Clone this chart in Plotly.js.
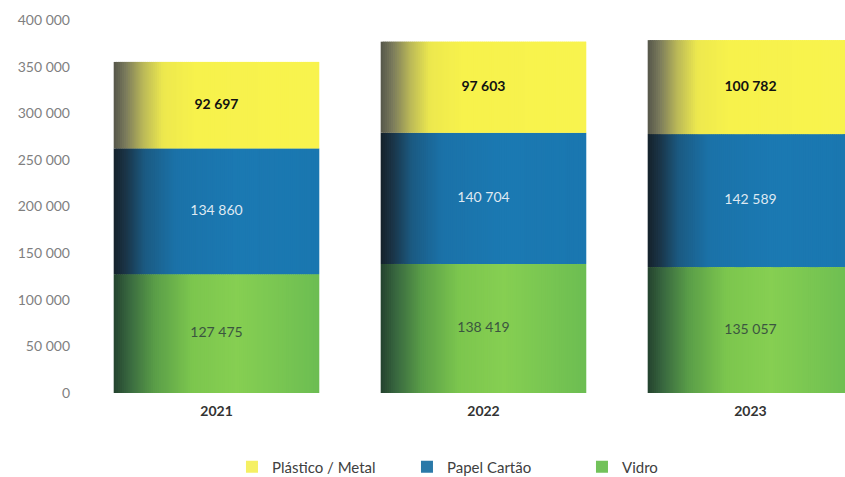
<!DOCTYPE html>
<html>
<head>
<meta charset="utf-8">
<script src="https://cdn.plot.ly/plotly-3.0.1.min.js"></script>
<style>html,body{margin:0;padding:0;background:#fff;}#chart{width:845px;height:477px;}</style>
</head>
<body>
<div id="chart"></div>
<script>
// ---- data ----
const years = ['2021', '2022', '2023'];
const vidro = [127475, 138419, 135057];
const papelCartao = [134860, 140704, 142589];
const plasticoMetal = [92697, 97603, 100782];
const seriesNames = ['Vidro', 'Papel Cartão', 'Plástico / Metal'];
const yTickVals = [0, 50000, 100000, 150000, 200000, 250000, 300000, 350000, 400000];

// ---- styles ----
const seriesValues = [vidro, papelCartao, plasticoMetal];
const gradients = [
  [[0, '#24432f'], [0.08, '#3a6a40'], [0.2, '#5a9e48'], [0.38, '#7cc64e'], [0.6, '#86cf52'], [0.85, '#76c452'], [1, '#6cbd52']],
  [[0, '#15212b'], [0.06, '#1a3548'], [0.15, '#1b5a82'], [0.3, '#1b72a8'], [0.6, '#1b79b2'], [1, '#1a77b0']],
  [[0, '#55564a'], [0.06, '#7c7c5c'], [0.14, '#b8b658'], [0.24, '#ede84e'], [0.4, '#f7f24c'], [1, '#f8f34e']]
];
const legendColors = ['#72c25a', '#2a79a8', '#f5f063'];
const labelColors = ['#3b5540', '#dfe9f2', '#111111'];
const barWidth = 0.77;
const N = 100;

function hexToRgb(h) { return [1, 3, 5].map(i => parseInt(h.substr(i, 2), 16)); }
function colorAt(stops, t) {
  for (let i = 1; i < stops.length; i++) {
    if (t <= stops[i][0]) {
      const a = stops[i - 1], b = stops[i];
      const f = (t - a[0]) / (b[0] - a[0]);
      const ca = hexToRgb(a[1]), cb = hexToRgb(b[1]);
      const c = ca.map((v, k) => Math.round(v + (cb[k] - v) * f));
      return 'rgb(' + c.join(',') + ')';
    }
  }
  return stops[stops.length - 1][1];
}
function fmt(v) { return String(v).replace(/\B(?=(\d{3})+(?!\d))/g, ' '); }

const traces = [];
let base = years.map(() => 0);
seriesValues.forEach((vals, s) => {
  const b = base.slice();
  const stripW = barWidth / N;
  for (let i = 0; i < N; i++) {
    const last = i === N - 1;
    traces.push({
      type: 'bar', x: years, y: vals, base: b,
      width: last ? stripW : stripW * 1.8, offset: -barWidth / 2 + i * stripW,
      marker: { color: colorAt(gradients[s], (i + 0.5) / N), line: { width: 0 } },
      showlegend: false, hoverinfo: 'skip'
    });
  }
  // legend entry
  traces.push({
    type: 'bar', x: years, y: years.map(() => null),
    marker: { color: legendColors[s] }, name: seriesNames[s],
    legendrank: 3 - s, showlegend: true, hoverinfo: 'skip'
  });
  base = base.map((v, k) => v + vals[k]);
  traces.push({
    type: 'scatter', mode: 'text', x: years,
    y: vals.map((v, k) => b[k] + v / 2),
    text: vals.map(fmt),
    textfont: { family: 'Lato, sans-serif', size: 14, color: labelColors[s], weight: s === 2 ? 'bold' : 'normal' },
    showlegend: false, hoverinfo: 'skip'
  });
});

const layout = {
  width: 845, height: 477,
  margin: { l: 83, r: 0, t: 20, b: 84, autoexpand: false },
  paper_bgcolor: '#fff', plot_bgcolor: '#fff',
  barmode: 'overlay',
  separators: '. ',
  font: { family: 'Lato, sans-serif' },
  xaxis: {
    type: 'category', range: [-0.5, 2.354],
    showgrid: false, zeroline: false, showline: false, ticks: '',
    ticklabelstandoff: 8,
    tickfont: { family: 'Lato, sans-serif', size: 14, color: '#333333', weight: 'bold' },
    fixedrange: true
  },
  yaxis: {
    range: [0, 400000], tickvals: yTickVals, tickformat: ',',
    showgrid: false, zeroline: false, showline: false, ticks: '',
    ticklabelstandoff: 12,
    tickfont: { family: 'Lato, sans-serif', size: 14, color: '#7f7f7f' },
    fixedrange: true
  },
  legend: {
    orientation: 'h', x: 0.54, xanchor: 'center',
    yref: 'container', y: 0.021, yanchor: 'middle',
    font: { family: 'Lato, sans-serif', size: 15, color: '#404040' },
    itemwidth: 30, entrywidth: 130, traceorder: 'normal'
  },
  showlegend: true
};

Plotly.newPlot('chart', traces, layout, { displayModeBar: false, staticPlot: true });
</script>
</body>
</html>
